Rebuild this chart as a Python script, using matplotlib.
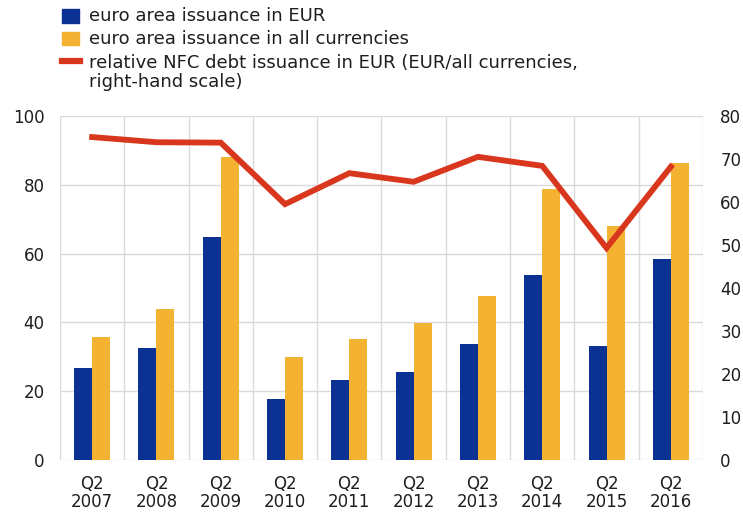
import matplotlib
matplotlib.use("Agg")
import matplotlib.pyplot as plt
import numpy as np
from matplotlib.patches import Rectangle
from matplotlib.lines import Line2D

plt.rcParams['font.family'] = ['DejaVu Sans']

categories = ["Q2\n2007", "Q2\n2008", "Q2\n2009", "Q2\n2010", "Q2\n2011",
              "Q2\n2012", "Q2\n2013", "Q2\n2014", "Q2\n2015", "Q2\n2016"]
issuance_eur = [26.7, 32.5, 64.8, 17.6, 23.3, 25.5, 33.6, 53.8, 33.2, 58.4]
issuance_all = [35.7, 43.9, 88.0, 30.0, 35.1, 39.8, 47.7, 78.8, 68.0, 86.3]
relative_eur = [75.1, 73.9, 73.8, 59.5, 66.7, 64.7, 70.5, 68.4, 49.3, 68.2]

legend_labels = ["euro area issuance in EUR",
                 "euro area issuance in all currencies",
                 "relative NFC debt issuance in EUR (EUR/all currencies,\nright-hand scale)"]

BLUE = "#0b3192"
YELLOW = "#f3b232"
RED = "#d8361d"
GRID = "#d9d9de"
TEXT = "#1e1e1e"

W, H = 743, 518
fig = plt.figure(figsize=(W / 100, H / 100), dpi=100)
ax = fig.add_axes([60 / W, 1 - 460 / H, (703 - 60) / W, (460 - 116) / H])
ax2 = ax.twinx()

x = np.arange(len(categories))
bw = 0.28
ax.bar(x - bw / 2, issuance_eur, width=bw, color=BLUE, zorder=3)
ax.bar(x + bw / 2, issuance_all, width=bw, color=YELLOW, zorder=3)
ax2.plot(x, relative_eur, color=RED, lw=4.2, solid_joinstyle='miter', zorder=4)

ax.set_xlim(-0.5, len(categories) - 0.5)
ax.set_ylim(0, 100)
ax2.set_ylim(0, 80)
ax.set_yticks(np.arange(0, 101, 20))
ax2.set_yticks(np.arange(0, 81, 10))
ax.set_xticks(x)
ax.set_xticklabels(categories, linespacing=0.95)
ax.set_xticks(np.arange(-0.5, len(categories), 1.0), minor=True)

ax.grid(axis='y', which='major', color=GRID, lw=1.0, zorder=0)
ax.grid(axis='x', which='minor', color=GRID, lw=1.0, zorder=0)
ax.set_axisbelow(True)
for a in (ax, ax2):
    for s in a.spines.values():
        s.set_visible(False)
ax.tick_params(axis='both', which='both', length=0, labelsize=12, colors=TEXT)
ax.tick_params(axis='y', pad=11)
ax.tick_params(axis='x', pad=11)
ax2.tick_params(axis='y', length=0, labelsize=12, pad=12.5, colors=TEXT)

# legend drawn in figure pixel coordinates
def fx(px):
    return px / W

def fy(py):
    return 1 - py / H

fig.add_artist(Rectangle((fx(62), fy(23)), 17 / W, 14 / H, transform=fig.transFigure,
                         color=BLUE))
fig.add_artist(Rectangle((fx(62), fy(45)), 17 / W, 13 / H, transform=fig.transFigure,
                         color=YELLOW))
fig.add_artist(Line2D([fx(62), fx(80)], [fy(61), fy(61)], transform=fig.transFigure,
                      color=RED, lw=4.5))
fig.text(fx(89), fy(16), legend_labels[0], fontsize=13, va='center', ha='left', color=TEXT)
fig.text(fx(89), fy(39), legend_labels[1], fontsize=13, va='center', ha='left', color=TEXT)
fig.text(fx(89), fy(54), legend_labels[2], fontsize=13, va='top', ha='left', color=TEXT,
         linespacing=1.1)

fig.savefig("out.png", dpi=100)
